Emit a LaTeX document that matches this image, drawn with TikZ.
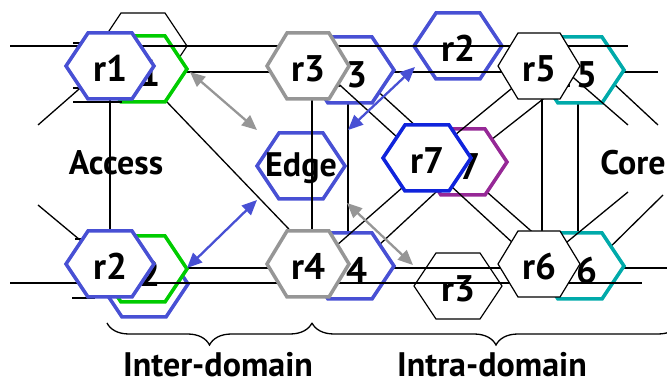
\documentclass[tikz,border=0pt]{standalone}
\usepackage{fontspec}
\setmainfont{PT Sans}
\usetikzlibrary{arrows.meta,decorations.pathreplacing}
\definecolor{hb}{RGB}{72,80,212}
\definecolor{hd}{RGB}{16,36,220}
\definecolor{hg}{RGB}{150,150,150}
\definecolor{gr}{RGB}{0,204,0}
\definecolor{cy}{RGB}{0,170,170}
\definecolor{pu}{RGB}{150,40,150}
\begin{document}
\begin{tikzpicture}[x=1pt,y=-1pt,
  hexw/.style={insert path={++(-44,0) -- ++(22,-33) -- ++(44,0) -- ++(22,33) -- ++(-22,33) -- ++(-44,0) -- cycle}},
  hexn/.style={insert path={++(-41,0) -- ++(20,-33) -- ++(42,0) -- ++(20,33) -- ++(-20,33) -- ++(-42,0) -- cycle}},
  thickhex/.style={line width=3.5pt, line join=miter},
  thinhex/.style={line width=1.2pt, line join=miter},
  conn/.style={line width=1.3pt},
  lab/.style={font=\bfseries\fontsize{37}{37}\selectfont, inner sep=0pt, anchor=base},
  txt/.style={font=\bfseries\fontsize{34}{34}\selectfont, inner sep=0pt, anchor=base},
  arr/.style={line width=2.3pt, {Triangle[length=15pt,width=13pt]}-{Triangle[length=15pt,width=13pt]}},
]
\useasboundingbox (0,0) rectangle (667,387);
% centres
\coordinate (bk1) at (143,46);
\coordinate (q2) at (458,46);
\coordinate (q3) at (458,286);
\coordinate (bq) at (144,284);
\coordinate (b1) at (143,69);
\coordinate (b2) at (143,269);
\coordinate (b3) at (350,70);
\coordinate (b4) at (350,266);
\coordinate (b5) at (580,70);
\coordinate (b6) at (580,266);
\coordinate (b7) at (463,162);
\coordinate (edge) at (301,166);
\coordinate (r1) at (110,66);
\coordinate (r2) at (110,264);
\coordinate (r3) at (308,66);
\coordinate (r4) at (308,264);
\coordinate (r5) at (539,66);
\coordinate (r6) at (539,264);
\coordinate (r7) at (427,158);
% free ends
\coordinate (e72) at (658,72);
\coordinate (e268) at (667,268);
\coordinate (b5out) at (658,125);
\coordinate (b6out) at (663,195);
\coordinate (w46) at (10,46);
\coordinate (e46) at (628,46);
\coordinate (w283) at (10,283);
\coordinate (e283) at (642,283);
\coordinate (r5out) at (628,125);
\coordinate (r6out) at (628,192);
\coordinate (r1in) at (38,125);
\coordinate (r2in) at (38,205);

% unfilled background hexes
\draw[thinhex] (bk1) [hexw];
\draw[thickhex, hb] (q2) [hexw];
\node[lab] at ([yshift=-16pt]q2) {r2};
\draw[thinhex] (q3) [hexw];
\node[lab] at ([yshift=-16pt]q3) {r3};
\draw[thickhex, hb] (bq) [hexw];

% back layer lines
\draw[conn] ([shift={(0,3)}]b1) -- (e72);
\draw[conn] ([shift={(0,-1)}]b2) -- (e268);
\draw[conn] ([shift={(-2,0)}]b3) -- ([shift={(-2,0)}]b4);
\draw[conn] ([shift={(-2,0)}]b5) -- ([shift={(-2,0)}]b6);
\draw[conn] ([shift={(0,8)}]b1) -- ([shift={(0,-15)}]r4);
\draw[conn] ([shift={(0,-4)}]b3) -- ([shift={(0,7)}]b7);
\draw[conn] ([shift={(0,6)}]b4) -- ([shift={(0,5)}]b7);
\draw[conn] (b5) -- (b7);
\draw[conn] ([shift={(0,9)}]b7) -- ([shift={(0,8)}]b6);
\draw[conn] ([shift={(20,1)}]b5) -- (b5out);
\draw[conn] ([shift={(10,1)}]b6) -- (b6out);

% back layer hexes
\filldraw[thickhex, draw=gr, fill=white] (b1) [hexw];
\node[lab] at ([yshift=-18pt]b1) {r1};
\filldraw[thickhex, draw=gr, fill=white] (b2) [hexw];
\node[lab] at ([yshift=-18pt]b2) {r2};
\filldraw[thickhex, draw=hb, fill=white] (b3) [hexw];
\node[lab] at ([yshift=-18pt]b3) {r3};
\filldraw[thickhex, draw=hb, fill=white] (b4) [hexw];
\node[lab] at ([yshift=-18pt]b4) {r4};
\filldraw[thickhex, draw=cy, fill=white] (b5) [hexw];
\node[lab] at ([yshift=-18pt]b5) {r5};
\filldraw[thickhex, draw=cy, fill=white] (b6) [hexw];
\node[lab] at ([yshift=-18pt]b6) {r6};
\filldraw[thickhex, draw=pu, fill=white] (b7) [hexw];
\node[lab] at ([yshift=-18pt]b7) {r7};

% Edge hex
\filldraw[thickhex, draw=hb, fill=white] (edge) [hexw];
\node[txt] at ([yshift=-11pt]edge) {Edge};

% side texts
\node[txt] (access) at (116,175) {Access};
\node[txt] (core) at (633,175) {Core};

% front layer lines
\draw[conn] (w46) -- (e46);
\draw[conn] (w283) -- (e283);
\draw[conn] (r1) -- (r2);
\draw[conn] ([shift={(4,0)}]r3) -- ([shift={(4,0)}]r4);
\draw[conn] ([shift={(3,0)}]r5) -- ([shift={(3,0)}]r6);
\draw[conn] ([shift={(12,1)}]r3) -- ([shift={(-7,0)}]r7);
\draw[conn] ([shift={(12,-4)}]r4) -- ([shift={(0,8)}]r7);
\draw[conn] (r5) -- (r7);
\draw[conn] ([shift={(0,6)}]r7) -- ([shift={(0,3)}]r6);
\draw[conn] ([shift={(21,0)}]r5) -- (r5out);
\draw[conn] ([shift={(11,-8)}]r6) -- (r6out);
\draw[conn] (r1in) -- ([shift={(0,-4)}]r1);
\draw[conn] (r2in) -- ([shift={(0,1)}]r2);
\draw[conn] (73,43) -- (95,43);
\draw[conn] (73,88) -- (95,88);
\draw[conn] (73,102) -- (122,102);
\draw[conn] (75,239) -- (95,239);
\draw[conn] (72,298) -- (95,298);

% front hexes
\filldraw[thickhex, draw=hb, fill=white] (r1) [hexw];
\node[lab] at ([yshift=-16pt]r1) {r1};
\filldraw[thickhex, draw=hb, fill=white] (r2) [hexw];
\node[lab] at ([yshift=-16pt]r2) {r2};
\filldraw[thickhex, draw=hg, fill=white] (r3) [hexn];
\node[lab] at ([yshift=-16pt]r3) {r3};
\filldraw[thickhex, draw=hg, fill=white] (r4) [hexn];
\node[lab] at ([yshift=-16pt]r4) {r4};
\filldraw[thinhex, fill=white] (r5) [hexn];
\node[lab] at ([yshift=-16pt]r5) {r5};
\filldraw[thinhex, fill=white] (r6) [hexn];
\node[lab] at ([yshift=-16pt]r6) {r6};
\filldraw[thickhex, draw=hd, fill=white] (r7) [hexw];
\node[lab] at ([yshift=-16pt]r7) {r7};

% arrows
\draw[arr, hg] ([shift={(47,3)}]b1) -- ([shift={(-44,-36)}]edge);
\draw[arr, hb] ([shift={(47,-36)}]edge) -- ([shift={(-43,21)}]q2);
\draw[arr, hb] ([shift={(44,-1)}]b2) -- ([shift={(-44,34)}]edge);
\draw[arr, hg] ([shift={(46,37)}]edge) -- ([shift={(-45,-21)}]q3);

% braces
\coordinate (br1) at (107,323);
\coordinate (br2) at (312,323);
\coordinate (br3) at (680,323);
\draw[conn, decorate, decoration={brace, mirror, amplitude=22pt}] (br1) -- (br2);
\draw[conn, decorate, decoration={brace, mirror, amplitude=22pt}] (br2) -- (br3);
\node[txt] (inter) at (218,377) {Inter-domain};
\node[txt] (intra) at (492,377) {Intra-domain};
\end{tikzpicture}
\end{document}
